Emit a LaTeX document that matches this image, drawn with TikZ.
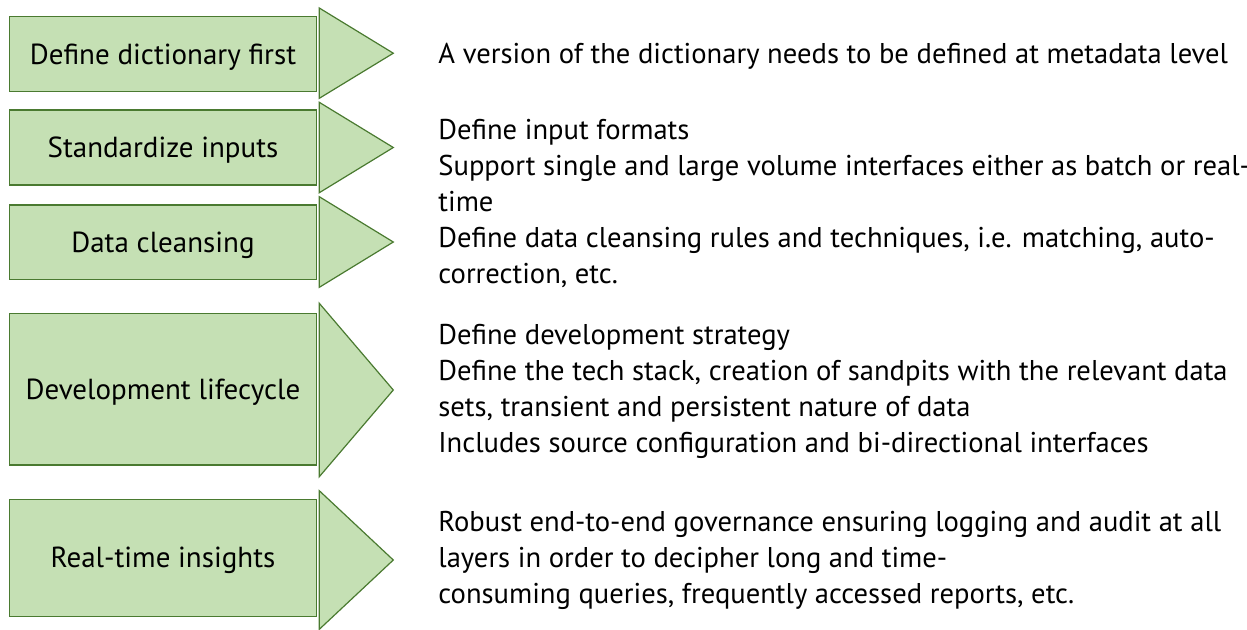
\documentclass[tikz,border=0pt]{standalone}
\usepackage{fontspec}
\setmainfont{PT Sans}
\definecolor{boxfill}{HTML}{C5E0B4}
\definecolor{boxline}{HTML}{4A7A30}
\newcommand\stacklines[1]{\vtop{\baselineskip=18pt\halign{##\hfil\cr#1\crcr}}}
\tikzset{
  stepbox/.style={draw=boxline, fill=boxfill, line width=0.6pt, inner sep=0pt,
    minimum width=153.7pt, font=\fontsize{14.5}{16}\selectfont,
    text height=10pt, text depth=0pt},
  tri/.style={draw=boxline, fill=boxfill, line width=0.6pt, line join=miter},
  desc/.style={anchor=base west, inner sep=0pt, font=\fontsize{14.3}{18}\selectfont}
}
\begin{document}
\begin{tikzpicture}[x=0.5pt, y=-0.5pt]
\useasboundingbox (0,0) rectangle (1247,629);
% boxes
\node[stepbox, minimum height=37.5pt] (b1) at (163,54.2) {Define dictionary first};
\node[stepbox, minimum height=37.5pt] (b2) at (163,147.5) {Standardize inputs};
\node[stepbox, minimum height=37.2pt] (b3) at (163,242.2) {Data cleansing};
\node[stepbox, minimum height=75.8pt] (b4) at (163,389.2) {Development lifecycle};
\node[stepbox, minimum height=58.8pt] (b5) at (163,557.9) {Real-time insights};
% triangles
\draw[tri] (319.3,8) -- (393.3,53.2) -- (319.3,98.3) -- cycle;
\draw[tri] (319.3,102.3) -- (393.3,147.5) -- (319.3,192.7) -- cycle;
\draw[tri] (319.3,196.7) -- (393.3,242) -- (319.3,287.3) -- cycle;
\draw[tri] (319.3,303.3) -- (393.3,390) -- (319.3,476.7) -- cycle;
\draw[tri] (319.3,490.7) -- (393.3,560) -- (319.3,629.3) -- cycle;
% descriptions
\node[desc] (t1) at (438,63.3) {A version of the dictionary needs to be defined at metadata level};
\node[desc] (t2) at (438,139) {\stacklines{Define input formats\cr
  Support single and large volume interfaces either as batch or real-\cr
  time}};
\node[desc] (t3) at (438,247) {\stacklines{Define data cleansing rules and techniques, i.e. matching, auto-\cr
  correction, etc.}};
\node[desc] (t4) at (438,344) {\stacklines{Define development strategy\cr
  Define the tech stack, creation of sandpits with the relevant data\cr
  sets, transient and persistent nature of data\cr
  Includes source configuration and bi-directional interfaces}};
\node[desc] (t5) at (438,531) {\stacklines{Robust end-to-end governance ensuring logging and audit at all\cr
  layers in order to decipher long and time-\cr
  consuming queries, frequently accessed reports, etc.}};
\end{tikzpicture}
\end{document}
